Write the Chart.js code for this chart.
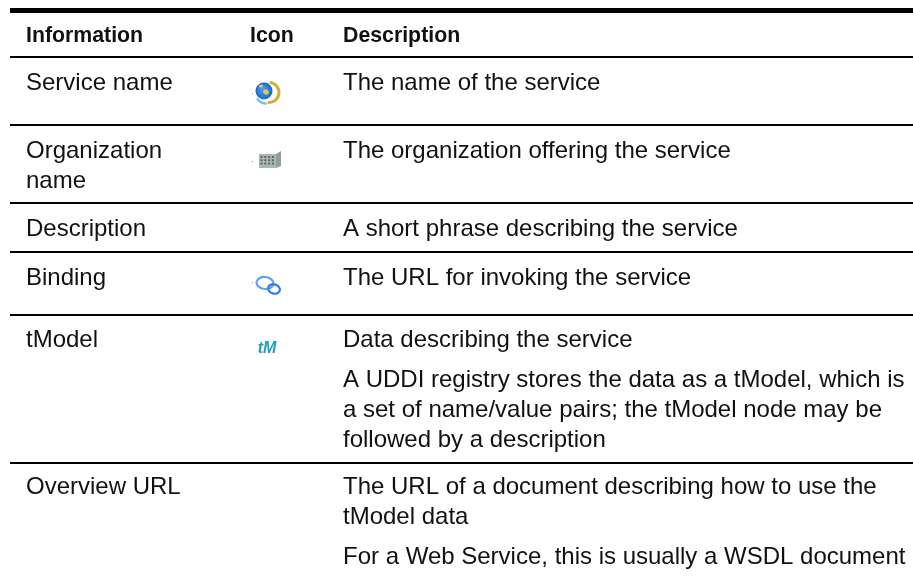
<!DOCTYPE html>
<html>
<head>
<meta charset="utf-8">
<script src="https://cdn.jsdelivr.net/npm/chart.js@4"></script>
<style>
  html, body { margin: 0; padding: 0; background: #fff; }
  canvas { display: block; }
</style>
</head>
<body>
<canvas id="chartCanvas" width="913" height="577"></canvas>
<script>
// Table content
var headers = ['Information', 'Icon', 'Description'];
var infoLabels = ['Service name', 'Organization', 'name', 'Description', 'Binding', 'tModel', 'Overview URL'];
var iconNames = ['globe', 'building', 'rings', 'tM'];
var descLabels = [
  'The name of the service',
  'The organization offering the service',
  'A short phrase describing the service',
  'The URL for invoking the service',
  'Data describing the service',
  'A UDDI registry stores the data as a tModel, which is',
  'a set of name/value pairs; the tModel node may be',
  'followed by a description',
  'The URL of a document describing how to use the',
  'tModel data',
  'For a Web Service, this is usually a WSDL document'
];

// Layout, in page pixels (the axes run 1:1 with the canvas)
var colX = [26, 250, 343];
var headerY = 42;
var infoY = [90, 158, 188, 236, 285, 347, 494];
var iconPos = [[267, 92], [271, 160], [268, 286], [267, 347]];
var descY = [90, 158, 236, 285, 347, 387, 417, 447, 494, 524, 564];
var ruleY = [10.5, 57, 125, 203, 252, 315, 463];

var FONT = '"Liberation Sans", Arial, sans-serif';
var HEAD_SIZE = 21.3;
var TEXT_SIZE = 24;

function textDataset(label, labels, x, ys, font) {
  return {
    label: label,
    data: ys.map(function (y, i) { return { x: x, y: y, text: labels[i] }; }),
    pointRadius: 0,
    showLine: false,
    textFont: font
  };
}

var datasets = [
  textDataset('header1', [headers[0]], colX[0], [headerY], 'bold ' + HEAD_SIZE + 'px ' + FONT),
  textDataset('header2', [headers[1]], colX[1], [headerY], 'bold ' + HEAD_SIZE + 'px ' + FONT),
  textDataset('header3', [headers[2]], colX[2], [headerY], 'bold ' + HEAD_SIZE + 'px ' + FONT),
  textDataset('info', infoLabels, colX[0], infoY, TEXT_SIZE + 'px ' + FONT),
  textDataset('desc', descLabels, colX[2], descY, TEXT_SIZE + 'px ' + FONT),
  {
    label: 'icons',
    data: iconNames.map(function (n, i) { return { x: iconPos[i][0], y: iconPos[i][1], icon: n }; }),
    pointRadius: 0,
    showLine: false
  }
];

// Small icons of the Icon column, drawn around their point
function drawGlobe(c, x, y) {
  var g = c.createRadialGradient(x - 5, y - 4, 1, x - 3, y, 9);
  g.addColorStop(0, '#4a9cf0');
  g.addColorStop(1, '#1663c8');
  c.fillStyle = g;
  c.beginPath(); c.arc(x - 3, y - 1, 8.5, 0, Math.PI * 2); c.fill();
  c.fillStyle = '#d6cc55';
  c.beginPath(); c.ellipse(x - 1, y, 3, 2.6, 0.5, 0, Math.PI * 2); c.fill();
  c.beginPath(); c.ellipse(x - 6, y - 6, 2.2, 1.5, 0, 0, Math.PI * 2); c.fill();
  c.lineWidth = 3;
  c.strokeStyle = '#d9ab3c';
  c.beginPath(); c.arc(x + 2, y + 0.5, 10, -1.5, 1.7); c.stroke();
  c.lineWidth = 2.4;
  c.strokeStyle = '#6cc6ec';
  c.beginPath(); c.arc(x - 1, y + 1, 10.5, 1.5, 2.6); c.stroke();
  c.fillStyle = '#999';
  c.fillRect(x - 15, y + 1, 1, 1);
}

function drawBuilding(c, x, y) {
  c.fillStyle = '#a9b8b6';
  c.fillRect(x - 12, y - 6, 17, 14);
  c.fillStyle = '#8ea09d';
  c.beginPath();
  c.moveTo(x + 5, y - 6); c.lineTo(x + 10, y - 9); c.lineTo(x + 10, y + 6); c.lineTo(x + 5, y + 8);
  c.closePath(); c.fill();
  c.fillStyle = '#56645f';
  for (var r = 0; r < 3; r++) {
    for (var k = 0; k < 4; k++) {
      c.fillRect(x - 10.5 + k * 3.8, y - 4 + r * 3.3, 2, 1.9);
    }
  }
  c.fillStyle = '#999';
  c.fillRect(x - 19, y + 1, 1, 1);
}

function drawRings(c, x, y) {
  c.lineWidth = 2.2;
  c.strokeStyle = '#5aa4f4';
  c.beginPath(); c.ellipse(x - 3, y - 3, 8.5, 6, 0.1, 0, Math.PI * 2); c.stroke();
  c.strokeStyle = '#2f7be8';
  c.beginPath(); c.ellipse(x + 6, y + 3, 6, 4.6, 0.3, 0, Math.PI * 2); c.stroke();
  c.fillStyle = '#999';
  c.fillRect(x - 16, y - 4, 1, 1);
}

var tablePlugin = {
  id: 'tablePlugin',
  afterDatasetsDraw: function (chart) {
    var c = chart.ctx;
    c.save();
    c.textBaseline = 'alphabetic';
    chart.data.datasets.forEach(function (ds, i) {
      var pts = chart.getDatasetMeta(i).data;
      pts.forEach(function (pt, j) {
        var item = ds.data[j];
        if (item.text) {
          // the reference text is a little soft
          c.filter = 'blur(0.3px)';
          c.font = ds.textFont;
          c.fillStyle = '#111';
          c.fillText(item.text, pt.x, pt.y);
          return;
        }
        c.filter = 'blur(0.5px)';
        if (item.icon === 'globe') {
          drawGlobe(c, pt.x, pt.y);
        } else if (item.icon === 'building') {
          drawBuilding(c, pt.x, pt.y);
        } else if (item.icon === 'rings') {
          drawRings(c, pt.x, pt.y);
        } else if (item.icon === 'tM') {
          c.font = 'italic bold 16px ' + FONT;
          c.fillStyle = '#1e9cc8';
          c.textAlign = 'center';
          c.fillText(item.icon, pt.x, pt.y + 6);
          c.textAlign = 'left';
        }
      });
    });
    c.restore();
  }
};

var chart = new Chart(document.getElementById('chartCanvas').getContext('2d'), {
  type: 'scatter',
  data: { datasets: datasets },
  options: {
    responsive: false,
    animation: false,
    layout: { padding: { left: 10 } },
    plugins: { legend: { display: false }, tooltip: { enabled: false } },
    scales: {
      x: { type: 'linear', display: false, min: 10, max: 913 },
      y: {
        type: 'linear',
        reverse: true,
        min: 0,
        max: 577,
        // the table rules are the y axis grid
        afterBuildTicks: function (axis) {
          axis.ticks = ruleY.map(function (v) { return { value: v }; });
        },
        ticks: { display: false },
        border: { display: false },
        grid: {
          color: '#000',
          drawTicks: false,
          lineWidth: function (ctx) { return ctx.index === 0 ? 5 : 2; }
        }
      }
    }
  },
  plugins: [tablePlugin]
});
</script>
</body>
</html>
